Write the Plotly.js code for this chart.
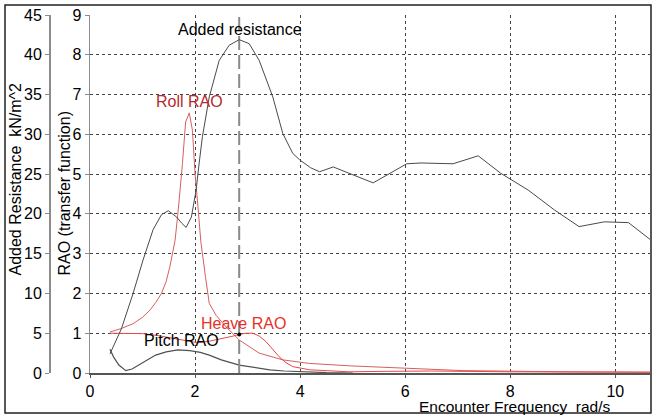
<!DOCTYPE html>
<html>
<head>
<meta charset="utf-8">
<script src="https://cdn.plot.ly/plotly-3.0.1.min.js"></script>
<style>
  html, body { margin: 0; padding: 0; background: #fff; }
  #chart { width: 656px; height: 420px; }
</style>
</head>
<body>
<div id="chart"></div>
<script>
// Added resistance, kN/m^2 (outer left axis)
const freqAR = [0.38, 0.6, 0.82, 1.01, 1.2, 1.36, 1.49, 1.65, 1.75, 1.83, 1.93, 2.02, 2.08, 2.14, 2.27, 2.46, 2.65, 2.84, 3.03, 3.22, 3.48, 3.67, 3.86, 3.99, 4.2, 4.37, 4.63, 5.39, 6.03, 6.3, 6.91, 7.39, 7.82, 8.34, 8.84, 9.31, 9.79, 10.25, 10.66];
const addedRes = [2.4, 5.6, 10.0, 14.2, 18.0, 19.9, 20.4, 19.6, 18.8, 18.3, 19.6, 23.0, 26.5, 29.7, 34.7, 39.3, 41.2, 41.9, 41.4, 39.3, 34.7, 30.1, 27.6, 26.8, 25.8, 25.3, 25.9, 23.9, 26.3, 26.4, 26.3, 27.3, 25.1, 23.0, 20.5, 18.4, 19.0, 18.9, 16.8];

// RAOs (inner left axis)
const freqRoll = [0.38, 0.6, 0.82, 1.0, 1.14, 1.25, 1.36, 1.45, 1.52, 1.62, 1.68, 1.72, 1.76, 1.82, 1.89, 1.95, 2.0, 2.06, 2.11, 2.2, 2.27, 2.4, 2.59, 2.84, 3.22, 3.67, 4.18, 4.94, 5.5, 6.1, 7.1, 9.0, 10.66];
const rollRAO = [1.03, 1.12, 1.24, 1.4, 1.58, 1.77, 2.0, 2.3, 2.67, 3.34, 4.1, 4.6, 5.27, 6.31, 6.54, 6.1, 5.0, 4.1, 3.3, 2.4, 1.75, 1.45, 1.16, 0.83, 0.5, 0.33, 0.24, 0.18, 0.15, 0.1, 0.06, 0.03, 0.02];

const freqHeave = [0.38, 0.7, 1.0, 1.3, 1.63, 1.89, 2.05, 2.27, 2.5, 2.7, 2.84, 2.97, 3.1, 3.22, 3.35, 3.48, 3.6, 3.73, 3.86, 4.18, 4.6, 4.94, 5.5, 6.5, 8.0, 10.66];
const heaveRAO = [1.0, 1.0, 0.99, 0.94, 0.86, 0.78, 0.76, 0.8, 0.86, 0.92, 0.97, 1.0, 1.0, 0.93, 0.79, 0.6, 0.41, 0.26, 0.16, 0.08, 0.05, 0.03, 0.04, 0.05, 0.03, 0.02];

const freqPitch = [0.38, 0.45, 0.55, 0.68, 0.8, 0.93, 1.1, 1.25, 1.45, 1.67, 1.9, 2.1, 2.27, 2.5, 2.84, 3.1, 3.42, 3.7, 4.0, 4.5, 5.0];
const pitchRAO = [0.6, 0.4, 0.2, 0.06, 0.1, 0.2, 0.33, 0.45, 0.53, 0.58, 0.56, 0.52, 0.45, 0.33, 0.2, 0.14, 0.08, 0.05, 0.03, 0.01, 0.0];

// cursor line and its point on the heave curve
const cursorFreq = 2.84;
const cursorRAO = 0.97;

const xRange = [0, 10.66];
const raoRange = [0, 9];
const arRange = [0, 45];

const FONT = "Liberation Sans, Arial, sans-serif";

function line(x, y, color, width, yaxis) {
  return {
    x: x,
    y: y,
    yaxis: yaxis || "y",
    type: "scatter",
    mode: "lines",
    line: { color: color, width: width },
    hoverinfo: "skip",
  };
}

const traces = [
  line(freqRoll, rollRAO, "#d65f5f", 1),
  line(freqHeave, heaveRAO, "#e84848", 1),
  line(freqPitch, pitchRAO, "#505050", 1.2),
  line(freqAR, addedRes, "#4a4a4a", 1, "y2"),
  {
    x: [cursorFreq, cursorFreq],
    y: raoRange,
    type: "scatter",
    mode: "lines",
    line: { color: "#8a8a8a", width: 2, dash: "14px,5px" },
    hoverinfo: "skip",
  },
  {
    x: [cursorFreq],
    y: [cursorRAO],
    type: "scatter",
    mode: "markers",
    marker: { color: "#000", size: 4 },
    hoverinfo: "skip",
  },
];

// paper coordinates for things outside the plot area
const L = 49, R = 6, T = 15, B = 47, W = 656, H = 420;
const pw = W - L - R, ph = H - T - B;
const px = v => (v - L) / pw;
const py = v => (H - B - v) / ph;

function label(text, x, y, color) {
  return {
    text: text,
    x: x,
    y: y,
    xref: "x",
    yref: "y",
    showarrow: false,
    font: { family: FONT, size: 16, color: color },
  };
}

const layout = {
  width: W,
  height: H,
  margin: { l: L, r: R, t: T, b: B },
  paper_bgcolor: "#fff",
  plot_bgcolor: "#fff",
  showlegend: false,
  font: { family: FONT, size: 16, color: "#000" },
  xaxis: {
    domain: [px(90), 1],
    range: xRange,
    dtick: 2,
    tick0: 0,
    showgrid: true,
    gridcolor: "#444",
    gridwidth: 1,
    griddash: "dot",
    zeroline: false,
    showline: true,
    linecolor: "#555",
    linewidth: 1.5,
    ticks: "outside",
    ticklen: 3,
    tickcolor: "#555",
    tickfont: { family: FONT, size: 16 },
  },
  yaxis: {
    range: raoRange,
    dtick: 1,
    tick0: 0,
    showgrid: true,
    gridcolor: "#444",
    gridwidth: 1,
    griddash: "dot",
    zeroline: false,
    showline: true,
    linecolor: "#8c8c8c",
    linewidth: 1.5,
    ticks: "outside",
    ticklen: 4,
    tickcolor: "#8c8c8c",
    tickfont: { family: FONT, size: 16 },
  },
  yaxis2: {
    overlaying: "y",
    anchor: "free",
    position: 0,
    side: "left",
    range: arRange,
    dtick: 5,
    tick0: 0,
    showgrid: false,
    zeroline: false,
    showline: true,
    linecolor: "#8c8c8c",
    linewidth: 1.5,
    ticks: "outside",
    ticklen: 4,
    tickcolor: "#8c8c8c",
    tickfont: { family: FONT, size: 16 },
  },
  shapes: [
    {
      type: "rect",
      xref: "paper",
      yref: "paper",
      x0: px(5),
      x1: px(651),
      y0: py(413),
      y1: py(5),
      line: { color: "#222", width: 1.5 },
    },
  ],
  annotations: [
    label("Added resistance", 2.85, 8.63, "#000"),
    label("Roll RAO", 1.9, 6.82, "#b52a2a"),
    label("Heave RAO", 2.93, 1.25, "#e8302a"),
    label("Pitch RAO", 1.74, 0.82, "#000"),
    {
      text: "Added Resistance\u00a0\u00a0kN/m^2",
      xref: "paper",
      yref: "paper",
      x: px(15),
      y: py(278),
      xanchor: "center",
      yanchor: "bottom",
      textangle: -90,
      showarrow: false,
      font: { family: FONT, size: 16, color: "#000" },
    },
    {
      text: "RAO (transfer function)",
      xref: "paper",
      yref: "paper",
      x: px(64),
      y: py(278),
      xanchor: "center",
      yanchor: "bottom",
      textangle: -90,
      showarrow: false,
      font: { family: FONT, size: 16, color: "#000" },
    },
    {
      text: "Encounter Frequency\u00a0\u00a0rad/s",
      xref: "paper",
      yref: "paper",
      x: px(612),
      y: py(406),
      xanchor: "right",
      yanchor: "middle",
      borderpad: 0,
      showarrow: false,
      font: { family: FONT, size: 15.5, color: "#000" },
    },
  ],
};

Plotly.newPlot("chart", traces, layout, { displayModeBar: false, staticPlot: true });
</script>
</body>
</html>
